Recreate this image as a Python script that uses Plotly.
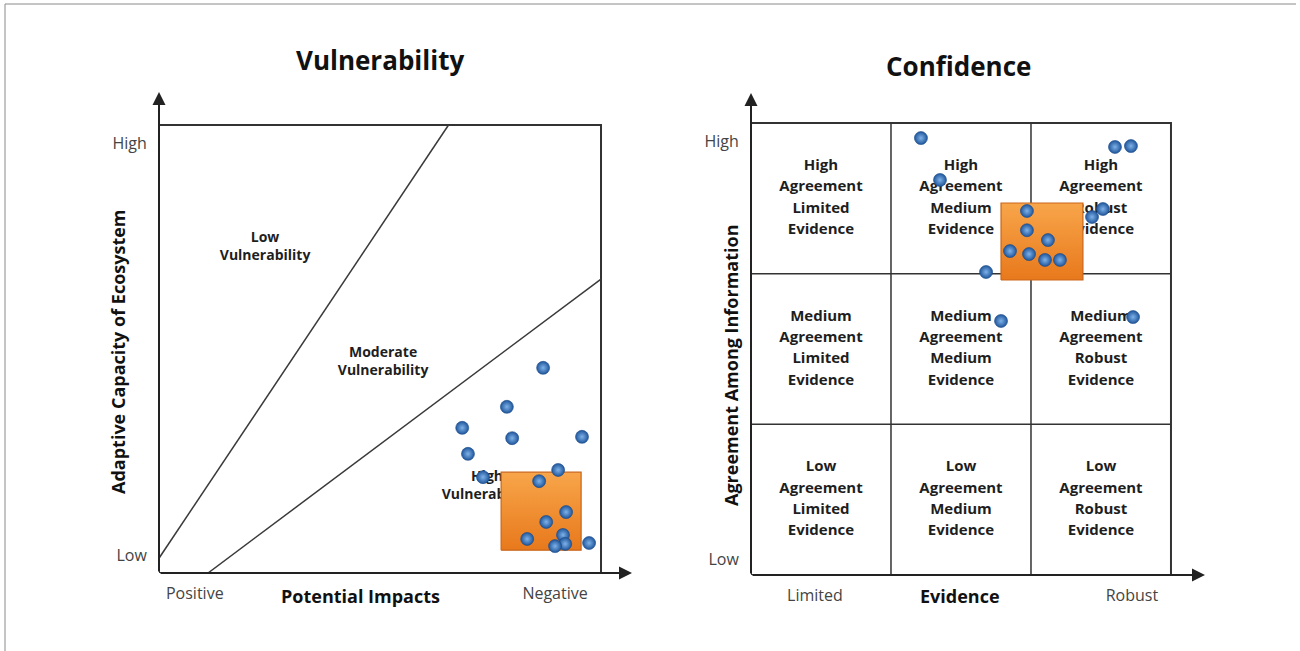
import plotly.graph_objects as go

# ---------------- Data ----------------
# Vulnerability panel (0-10 scale on both axes)
vul_x = [8.69, 7.87, 6.86, 7.99, 9.57, 6.99, 7.33, 9.03, 8.60, 9.21, 8.76, 8.33, 9.14, 9.19, 8.96, 9.73]
vul_y = [4.58, 3.71, 3.24, 3.01, 3.04, 2.66, 2.14, 2.30, 2.05, 1.36, 1.14, 0.76, 0.85, 0.65, 0.60, 0.67]
vul_box_x = [7.74, 9.55]
vul_box_y = [0.51, 2.25]
low_mod_x = [0.0, 6.55]
low_mod_y = [0.33, 10.0]
mod_high_x = [1.11, 10.0]
mod_high_y = [0.0, 6.56]
vul_regions = ["Low<br>Vulnerability", "Moderate<br>Vulnerability", "High<br>Vulnerability"]
vul_region_x = [2.40, 5.07, 7.42]
vul_region_y = [7.27, 4.69, 1.93]
vul_xticks = ["Positive", "Negative"]
vul_xtick_pos = [0.81, 8.96]
vul_yticks = ["Low", "High"]
vul_ytick_pos = [0.40, 9.60]

# Confidence panel (0-3 scale, 3x3 grid)
conf_x = [1.214, 1.350, 2.600, 2.714, 1.971, 1.971, 2.121, 1.850, 1.986, 2.100, 2.207, 1.679, 2.514, 2.436, 1.786, 2.729]
conf_y = [2.900, 2.622, 2.841, 2.847, 2.416, 2.288, 2.223, 2.150, 2.130, 2.091, 2.091, 2.011, 2.429, 2.376, 1.686, 1.712]
conf_box_x = [1.786, 2.371]
conf_box_y = [1.958, 2.469]
agreement_levels = ["Low", "Medium", "High"]          # rows, bottom to top
evidence_levels = ["Limited", "Medium", "Robust"]     # columns, left to right
conf_xticks = ["Limited", "Robust"]
conf_xtick_pos = [0.457, 2.721]
conf_yticks = ["Low", "High"]
conf_ytick_pos = [0.106, 2.88]

# ---------------- Styling ----------------
W, H = 1300, 651
FONT = "Open Sans"
DARK = "#333333"
TXT = "#1e1e1e"
POINT_MARKER = dict(size=13, color="#1F569C",
                    gradient=dict(type="radial", color="#7FB2E8"),
                    line=dict(width=0.6, color="#1A4A88"))
ORANGE_GRAD = dict(type="vertical", colorscale=[[0, "#E8791C"], [1, "#F8A54A"]])

fig = go.Figure()


def box_trace(xs, ys, xa, ya):
    x0, x1 = xs
    y0, y1 = ys
    return go.Scatter(x=[x0, x1, x1, x0, x0], y=[y0, y0, y1, y1, y0],
                      mode="lines", fill="toself", fillgradient=ORANGE_GRAD,
                      line=dict(color="#C9661A", width=1.2),
                      xaxis=xa, yaxis=ya, hoverinfo="skip", showlegend=False)


# ---- Left panel ----
fig.add_trace(go.Scatter(x=low_mod_x, y=low_mod_y, mode="lines",
                         line=dict(color="#3a3a3a", width=1.5),
                         xaxis="x", yaxis="y", showlegend=False, hoverinfo="skip"))
fig.add_trace(go.Scatter(x=mod_high_x, y=mod_high_y, mode="lines",
                         line=dict(color="#3a3a3a", width=1.5),
                         xaxis="x", yaxis="y", showlegend=False, hoverinfo="skip"))
fig.add_trace(go.Scatter(x=vul_region_x, y=vul_region_y, mode="text", text=vul_regions,
                         textfont=dict(family=FONT, size=14, color=TXT, weight="bold"),
                         xaxis="x", yaxis="y", showlegend=False, hoverinfo="skip"))
fig.add_trace(box_trace(vul_box_x, vul_box_y, "x", "y"))
fig.add_trace(go.Scatter(x=vul_x, y=vul_y, mode="markers", marker=POINT_MARKER,
                         xaxis="x", yaxis="y", showlegend=False))

# ---- Right panel: cell labels, one text line per point ----
line_gap = 0.1414
lab_x, lab_y, lab_t = [], [], []
for r, agr in enumerate(agreement_levels):
    for c, ev in enumerate(evidence_levels):
        lines = [agr, "Agreement", ev, "Evidence"]
        for k, word in enumerate(lines):
            lab_x.append(c + 0.5)
            lab_y.append(r + 0.5 + (1.5 - k) * line_gap)
            lab_t.append(word)
fig.add_trace(go.Scatter(x=lab_x, y=lab_y, mode="text", text=lab_t,
                         textfont=dict(family=FONT, size=15, color=TXT, weight="bold"),
                         xaxis="x2", yaxis="y2", showlegend=False, hoverinfo="skip"))
fig.add_trace(box_trace(conf_box_x, conf_box_y, "x2", "y2"))
fig.add_trace(go.Scatter(x=conf_x, y=conf_y, mode="markers", marker=POINT_MARKER,
                         xaxis="x2", yaxis="y2", showlegend=False))

# ---------------- Axes ----------------
def px_x(p):
    return p / W


def px_y(p):
    return (H - p) / H


tickfont = dict(family=FONT, size=16, color="#444444")
common = dict(showgrid=False, zeroline=False, showline=False, ticks="outside",
              tickcolor="rgba(0,0,0,0)", tickfont=tickfont, fixedrange=True)

fig.update_layout(
    xaxis=dict(domain=[px_x(159), px_x(632)], range=[0, 10.701], anchor="y",
               tickvals=vul_xtick_pos, ticktext=vul_xticks, ticklen=6, **common),
    yaxis=dict(domain=[px_y(573), px_y(92)], range=[0, 10.737], anchor="x",
               tickvals=vul_ytick_pos, ticktext=vul_yticks, ticklen=8, **common),
    xaxis2=dict(domain=[px_x(751), px_x(1205)], range=[0, 3.243], anchor="y2",
                tickvals=conf_xtick_pos, ticktext=conf_xticks, ticklen=6, **common),
    yaxis2=dict(domain=[px_y(575), px_y(93)], range=[0, 3.199], anchor="x2",
                tickvals=conf_ytick_pos, ticktext=conf_yticks, ticklen=8, **common),
)

shapes = []
# panel frames
shapes.append(dict(type="rect", xref="x", yref="y", x0=0, x1=10, y0=0, y1=10,
                   line=dict(color=DARK, width=2), layer="below"))
shapes.append(dict(type="rect", xref="x2", yref="y2", x0=0, x1=3, y0=0, y1=3,
                   line=dict(color=DARK, width=2), layer="below"))
for v in [1, 2]:
    shapes.append(dict(type="line", xref="x2", yref="y2", x0=v, x1=v, y0=0, y1=3,
                       line=dict(color=DARK, width=1.5), layer="below"))
    shapes.append(dict(type="line", xref="x2", yref="y2", x0=0, x1=3, y0=v, y1=v,
                       line=dict(color=DARK, width=1.5), layer="below"))
# page border (top and left)
shapes.append(dict(type="line", xref="paper", yref="paper", x0=px_x(5), x1=px_x(1296),
                   y0=px_y(4), y1=px_y(4), line=dict(color="#8a8a8a", width=1)))
shapes.append(dict(type="line", xref="paper", yref="paper", x0=px_x(5), x1=px_x(5),
                   y0=px_y(4), y1=0, line=dict(color="#8a8a8a", width=1)))
fig.update_layout(shapes=shapes)

ann = []
# axis arrows
for xa, ya, xmax, ymax in [("x", "y", 10.701, 10.737), ("x2", "y2", 3.243, 3.199)]:
    ann.append(dict(x=xmax, y=0, ax=0, ay=0, xref=xa, yref=ya, axref=xa, ayref=ya,
                    showarrow=True, arrowhead=2, arrowsize=1.3, arrowwidth=2,
                    arrowcolor="#222222", text=""))
    ann.append(dict(x=0, y=ymax, ax=0, ay=0, xref=xa, yref=ya, axref=xa, ayref=ya,
                    showarrow=True, arrowhead=2, arrowsize=1.3, arrowwidth=2,
                    arrowcolor="#222222", text=""))

center = dict(xref="paper", yref="paper", xanchor="center", yanchor="middle", showarrow=False)
# titles
ann.append(dict(x=px_x(380), y=px_y(60), text="<b>Vulnerability</b>",
                font=dict(family=FONT, size=26, color="#111111"), **center))
ann.append(dict(x=px_x(958), y=px_y(66), text="<b>Confidence</b>",
                font=dict(family=FONT, size=26, color="#111111"), **center))
# axis titles
ann.append(dict(x=px_x(360), y=px_y(596), text="<b>Potential Impacts</b>",
                font=dict(family=FONT, size=18, color="#111111"), **center))
ann.append(dict(x=px_x(960), y=px_y(596), text="<b>Evidence</b>",
                font=dict(family=FONT, size=18, color="#111111"), **center))
ann.append(dict(x=px_x(118), y=px_y(352), text="<b>Adaptive Capacity of Ecosystem</b>",
                textangle=-90, font=dict(family=FONT, size=18, color="#111111"), **center))
ann.append(dict(x=px_x(731), y=px_y(366), text="<b>Agreement Among Information</b>",
                textangle=-90, font=dict(family=FONT, size=18, color="#111111"), **center))
fig.update_layout(annotations=ann)

fig.update_layout(width=W, height=H, margin=dict(l=0, r=0, t=0, b=0),
                  paper_bgcolor="white", plot_bgcolor="white", showlegend=False)

fig.write_html("out.html", config={"displayModeBar": False},
               post_script="document.body.style.margin='0px';")
